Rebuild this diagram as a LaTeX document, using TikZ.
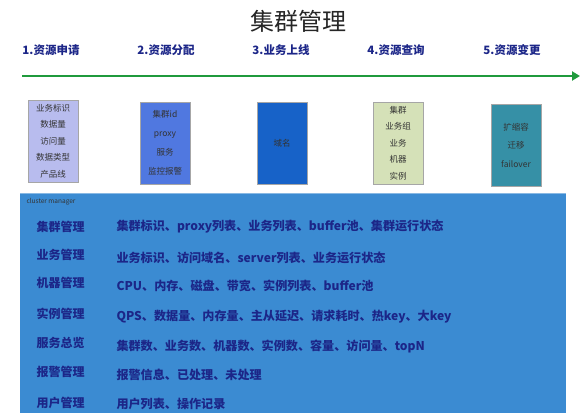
\documentclass[tikz,border=0pt]{standalone}
\usepackage{fontspec}
\newfontfamily\cjk{Noto Sans CJK SC}
\usetikzlibrary{positioning,arrows.meta}

\definecolor{navytext}{HTML}{1C2688}
\definecolor{flowgreen}{HTML}{1F9A3C}
\definecolor{applyfill}{HTML}{B8BCEE}
\definecolor{assignfill}{HTML}{5078E0}
\definecolor{onlinefill}{HTML}{1762C8}
\definecolor{queryfill}{HTML}{D5E1B8}
\definecolor{changefill}{HTML}{3690A6}
\definecolor{panelfill}{HTML}{3B8BD2}

\tikzset{
  steplabel/.style={font=\cjk\fontsize{11.5}{13}\selectfont\bfseries, text=navytext},
  stagebox/.style={draw=gray!70, minimum width=50pt, minimum height=82pt,
    align=center, inner sep=1pt, text=black!80,
    font=\cjk\fontsize{8.5}{16.5}\selectfont},
  rowname/.style={anchor=west, font=\cjk\fontsize{12}{14}\selectfont\bfseries, text=navytext},
  rowinfo/.style={anchor=west, font=\cjk\fontsize{12.1}{14}\selectfont\bfseries, text=navytext}
}

\begin{document}
\begin{tikzpicture}[x=1pt, y=-1pt]
  \useasboundingbox (0,0) rectangle (588,415);

  % Title
  \node[font=\cjk\fontsize{24}{26}\selectfont, text=black!85] (title) at (298,21) {集群管理};

  % The five stages along the time line
  \node[steplabel] (s1) at (51,50) {1.资源申请};
  \node[steplabel] (s2) at (166,50) {2.资源分配};
  \node[steplabel] (s3) at (281,50) {3.业务上线};
  \node[steplabel] (s4) at (396,50) {4.资源查询};
  \node[steplabel] (s5) at (512,50) {5.资源变更};

  % Green time line arrow
  \coordinate (flowstart) at (22,76);
  \coordinate (flowend) at (580,76);
  \draw[flowgreen, line width=2.5pt, -{Triangle[length=8pt,width=9pt]}] (flowstart) -- (flowend);

  % One box of items under every stage
  \node[stagebox, fill=applyfill] (b1) at (53,141) {业务标识\\数据量\\访问量\\数据类型\\产品线};
  \node[stagebox, fill=assignfill, font=\cjk\fontsize{8.5}{19}\selectfont] (b2) at (165,143) {集群id\\proxy\\服务\\监控报警};
  \node[stagebox, fill=onlinefill] (b3) at (282,143) {域名};
  \node[stagebox, fill=queryfill] (b4) at (398,143) {集群\\业务组\\业务\\机器\\实例};
  \node[stagebox, fill=changefill, font=\cjk\fontsize{8.5}{18.5}\selectfont] (b5) at (516,145) {扩缩容\\迁移\\failover};

  % Cluster manager panel
  \fill[panelfill] (20,193) rectangle (566,413);
  \draw[panelfill!60!white, line width=1pt] (20,193.5) -- (566,193.5);
  \node[anchor=west, font=\cjk\fontsize{6.5}{8}\selectfont, text=black!80] (cm) at (23,202) {cluster manager};

  % Rows of the panel
  \node[rowname] (n1) at (33,227) {集群管理};
  \node[rowinfo] (d1) at (113,227) {集群标识、proxy列表、业务列表、buffer池、集群运行状态};
  \node[rowname] (n2) at (33,255) {业务管理};
  \node[rowinfo] (d2) at (113,258) {业务标识、访问域名、server列表、业务运行状态};
  \node[rowname] (n3) at (33,283) {机器管理};
  \node[rowinfo] (d3) at (113,286) {CPU、内存、磁盘、带宽、实例列表、buffer池};
  \node[rowname] (n4) at (33,314) {实例管理};
  \node[rowinfo] (d4) at (113,317) {QPS、数据量、内存量、主从延迟、请求耗时、热key、大key};
  \node[rowname] (n5) at (33,343) {服务总览};
  \node[rowinfo] (d5) at (113,346) {集群数、业务数、机器数、实例数、容量、访问量、topN};
  \node[rowname] (n6) at (33,372) {报警管理};
  \node[rowinfo] (d6) at (113,375) {报警信息、已处理、未处理};
  \node[rowname] (n7) at (33,403) {用户管理};
  \node[rowinfo] (d7) at (113,404) {用户列表、操作记录};

\end{tikzpicture}
\end{document}
